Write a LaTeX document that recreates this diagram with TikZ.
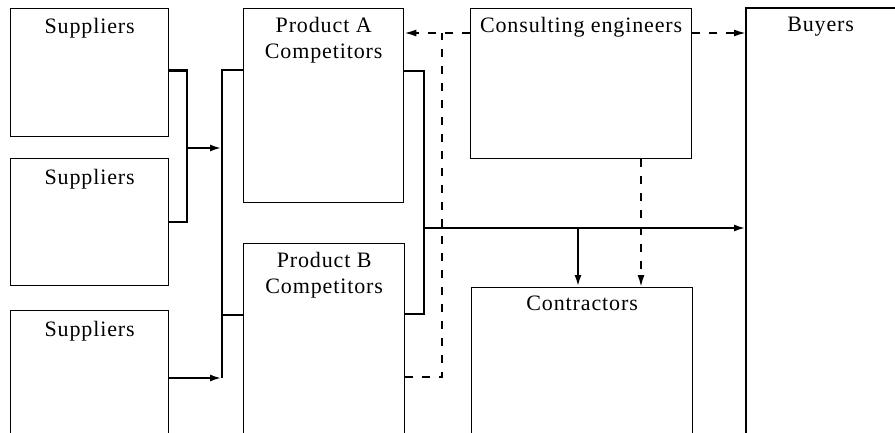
\documentclass[tikz,border=0pt]{standalone}
\usepackage{fontspec}
\setmainfont{Liberation Serif}[LetterSpace=4]
\usetikzlibrary{arrows.meta,calc}
\begin{document}
\begin{tikzpicture}[x=1pt,y=-1pt,
  box/.style={draw, line width=1.3pt, anchor=north west, inner sep=0pt},
  lbl/.style={anchor=north, inner sep=0pt, align=center,
    font=\fontsize{22}{26}\selectfont},
  conn/.style={line width=2.4pt, line cap=butt},
  dashconn/.style={line width=1.8pt, dash pattern=on 8pt off 9pt},
  tip/.style={-{Latex[length=12pt,width=7pt]}}
]
\clip (0,0) rectangle (895,433);
\fill[white] (0,0) rectangle (895,433);

% boxes (the lower ones run off the bottom edge)
\node[box, minimum width=158pt, minimum height=128pt] (s1) at (10,8) {};
\node[box, minimum width=158pt, minimum height=127pt] (s2) at (10,158) {};
\node[box, minimum width=158pt, minimum height=150pt] (s3) at (10,310) {};
\node[box, minimum width=160pt, minimum height=194pt] (pa) at (243,8) {};
\node[box, minimum width=161pt, minimum height=217pt] (pb) at (243,243) {};
\node[box, minimum width=221pt, minimum height=150pt] (ce) at (470,8) {};
\node[box, minimum width=221pt, minimum height=173pt] (co) at (471,287) {};
\node[box, draw=none, minimum width=148pt, minimum height=452pt] (bu) at (746,8) {};
\draw[line width=1.3pt] (bu.south west) -- (bu.north west) -- (bu.north east);
\draw[line width=0.8pt] (bu.north east) -- ++(0,104);

% titles
\node[lbl] (s1t) at ([yshift=-10pt]s1.north) {Suppliers};
\node[lbl] (s2t) at ([yshift=-11pt]s2.north) {Suppliers};
\node[lbl] (s3t) at ([yshift=-11pt]s3.north) {Suppliers};
\node[lbl] (pat) at ([yshift=-9pt]pa.north) {Product A\\Competitors};
\node[lbl] (pbt) at ([yshift=-9pt]pb.north) {Product B\\Competitors};
\node[lbl] (cet) at ([yshift=-9pt]ce.north) {Consulting engineers};
\node[lbl] (cot) at ([yshift=-9pt]co.north) {Contractors};
\node[lbl] (but) at ([yshift=-9pt]bu.north) {Buyers};

% junction points of the supply lines
\coordinate (j1) at (187,148);
\coordinate (busTop) at (222,70);
\coordinate (busIn) at (222,148);
\coordinate (busMid) at (222,315);
\coordinate (busBot) at (222,378);
\coordinate (r1) at (424,71);
\coordinate (r2) at (424,314);
\coordinate (hub) at (424,228);
\coordinate (br) at (578,228);
\coordinate (d1) at (442,33);
\coordinate (d2) at (442,377);
\coordinate (d3) at (641,160);

% suppliers to competitors
\draw[conn] ([yshift=2pt]s1.east) -| (j1) |- (s2.east);
\draw[conn, tip] (j1) -- (busIn);
\draw[conn] (pa.west |- busTop) -- (busTop) -- (busBot);
\draw[conn] (busMid) -- (pb.west |- busMid);
\draw[conn, tip] (s3.east |- busBot) -- (busBot);

% competitors to buyers and contractors
\draw[conn] (pa.east |- r1) -- (r1) -- (r2) -- (pb.east |- r2);
\draw[conn, tip] (hub) -- (bu.west |- hub);
\draw[conn, tip] (br) -- (co.north -| br);

% influence of the consulting engineers
\draw[dashconn, tip] (ce.west |- d1) -- (pa.east |- d1);
\draw[dashconn] (pb.east |- d2) -- (d2) -- (d1);
\draw[dashconn, tip] (ce.east |- d1) -- (bu.west |- d1);
\draw[dashconn, tip] (ce.south -| d3) -- (co.north -| d3);
\end{tikzpicture}
\end{document}
